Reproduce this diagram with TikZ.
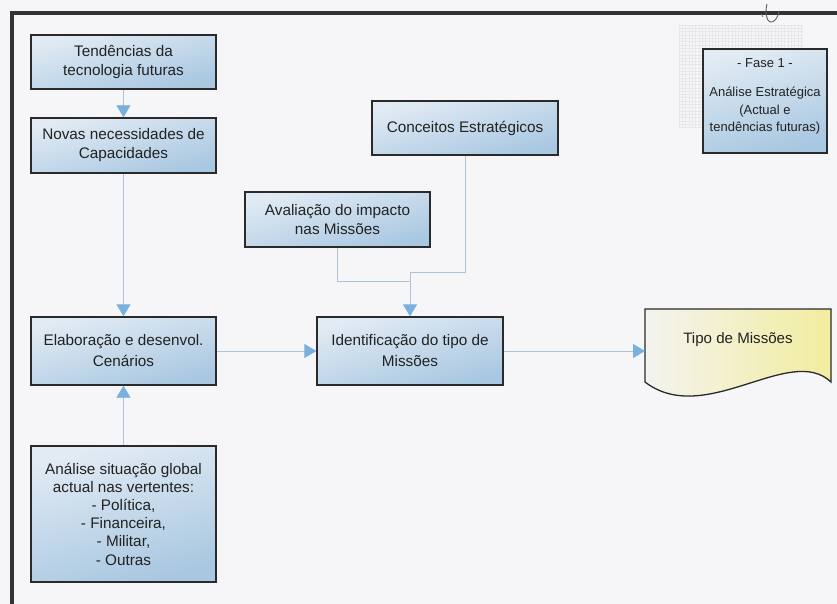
\documentclass[tikz,border=0pt]{standalone}
\usepackage{fontspec}
\setmainfont{Liberation Sans}
\usetikzlibrary{arrows.meta}

\definecolor{paper}{HTML}{F6F6F8}
\definecolor{framec}{HTML}{333333}
\definecolor{boxline}{HTML}{2A2A2A}
\definecolor{boxtop}{HTML}{E2EBF4}
\definecolor{boxbot}{HTML}{A8C7E1}
\definecolor{textc}{HTML}{222222}
\definecolor{linec}{HTML}{AEC2D8}
\definecolor{tipc}{HTML}{7AB0DE}
\definecolor{docleft}{HTML}{F3F3F0}
\definecolor{docright}{HTML}{F2ED9E}
\definecolor{gridc}{HTML}{E7E7EB}

\tikzset{
  box/.style={draw=boxline, line width=1.3pt, top color=boxtop, bottom color=boxbot,
    shading angle=15, minimum width=185pt, align=center, inner sep=2pt,
    text=textc, font=\fontsize{15.3}{19}\selectfont},
  smallbox/.style={box, font=\fontsize{13}{17.5}\selectfont},
  conn/.style={draw=linec, line width=0.8pt},
  arr/.style={conn, -{Triangle[width=14pt,length=12pt,color=tipc]}},
}

\begin{document}
\begin{tikzpicture}[x=1pt,y=-1pt]
\useasboundingbox (0,0) rectangle (837,604);
\fill[paper] (0,0) rectangle (837,604);

% page frame
\draw[framec, line width=3.6pt, line join=miter] (12,604) -- (12,13) -- (837,13);

% fine textured patch behind the phase label
\foreach \xx in {679,682.3,...,803} \draw[gridc, line width=0.35pt] (\xx,25) -- (\xx,128);
\foreach \yy in {25,28.3,...,128} \draw[gridc, line width=0.35pt] (679,\yy) -- (803,\yy);
% pen mark
\draw[framec!80, line width=0.9pt] (767,4) .. controls (765,12) and (766,20) .. (770,22)
  .. controls (774,23) and (778,18) .. (779,11);
\draw[framec!70, line width=0.7pt] (761,14) -- (763,17);

% boxes
\node[box, minimum height=54pt] (tend) at (123.5,62) {Tendências da\\tecnologia futuras};
\node[box, minimum height=55pt] (novas) at (123.5,145.5) {Novas necessidades de\\Capacidades};
\node[box, minimum width=186pt, minimum height=54pt] (conc) at (465,128) {Conceitos Estratégicos};
\node[smallbox, minimum width=124pt, minimum height=104pt, text depth=11.5pt] (fase) at (765,101)
  {- Fase 1 -\\[12pt]Análise Estratégica\\(Actual e\\tendências futuras)};
\node[box, minimum height=55pt] (aval) at (337.5,219.5) {Avaliação do impacto\\nas Missões};
\node[box, minimum height=68pt, font=\fontsize{15.3}{21}\selectfont] (elab) at (123.5,351)
  {Elaboração e desenvol.\\Cenários};
\node[box, minimum width=186pt, minimum height=68pt, font=\fontsize{15.3}{21}\selectfont] (ident) at (410,351)
  {Identificação do tipo de\\Missões};
\node[box, minimum height=136pt, font=\fontsize{15.3}{18.2}\selectfont] (anal) at (123.5,514)
  {Análise situação global\\actual nas vertentes:\\- Política,\\- Financeira,\\- Militar,\\- Outras};

% document shape
\path[draw=boxline, line width=1.3pt, left color=docleft, right color=docright]
  (645,309) -- (831,309) -- (831,382)
  .. controls (790,343) and (705,428) .. (645,382) -- cycle;
\node[text=textc, font=\fontsize{15.1}{19}\selectfont] (tipo) at (738,340) {Tipo de Missões};
\coordinate (tipoin) at (645,351);

% connectors
\coordinate (j) at (410,281);
\coordinate (k) at (410,272);
\draw[arr] (tend) -- (novas);
\draw[arr] (novas) -- (elab);
\draw[arr] (anal) -- (elab);
\draw[arr] (elab) -- (ident);
\draw[arr] (ident) -- (tipoin);
\draw[conn] (aval.south) |- (j);
\draw[arr] (conc.south) |- (k) -- (ident.north);
\end{tikzpicture}
\end{document}
